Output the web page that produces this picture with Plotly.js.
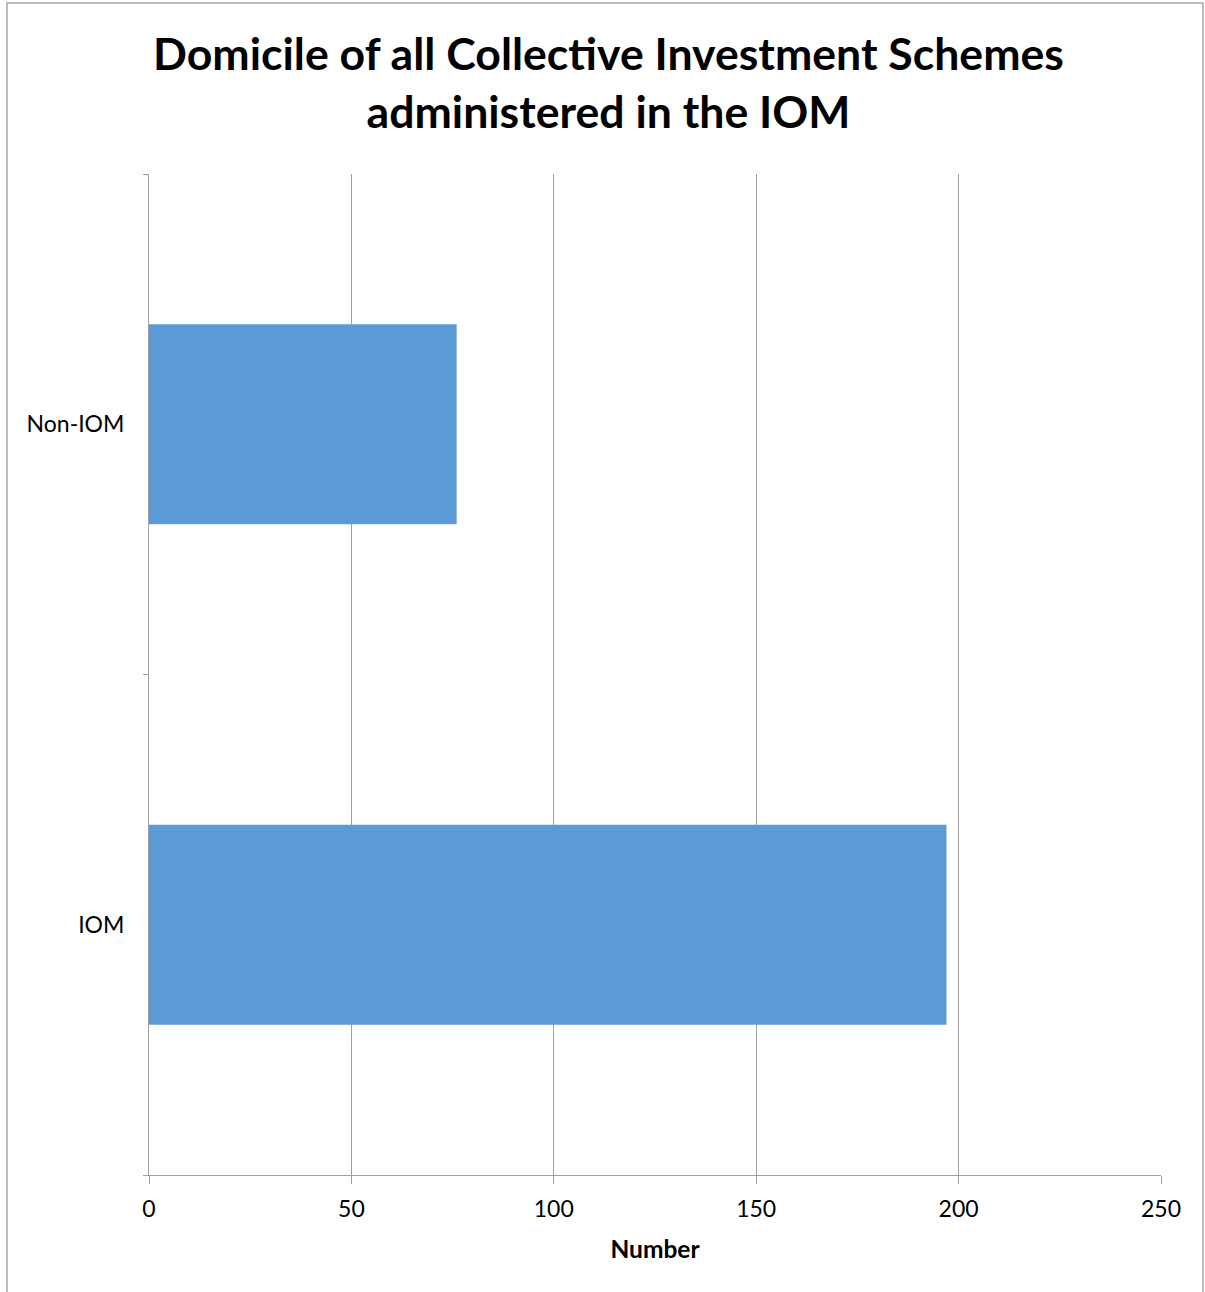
<!DOCTYPE html>
<html>
<head>
<meta charset="utf-8">
<script src="https://cdn.plot.ly/plotly-3.0.1.min.js"></script>
<style>html,body{margin:0;padding:0;background:#fff;}#chart{width:1205px;height:1292px;}</style>
</head>
<body>
<div id="chart"></div>
<script>
const categories = ['IOM', 'Non-IOM'];
const values = [197, 76];
const xTickVals = [0, 50, 100, 150, 200, 250];
const titleText = 'Domicile of all Collective Investment Schemes<br>administered in the IOM';
const xTitle = 'Number';

const FONT = 'Lato, "Open Sans", "DejaVu Sans", sans-serif';

const data = [{
  type: 'bar',
  orientation: 'h',
  y: categories,
  x: values,
  width: 0.4,
  marker: {color: '#5B9BD5', line: {width: 0}},
  hoverinfo: 'none'
}];

const layout = {
  width: 1205,
  height: 1292,
  paper_bgcolor: '#fff',
  plot_bgcolor: '#fff',
  margin: {l: 149, r: 44, t: 174, b: 117, pad: 0},
  showlegend: false,
  title: {
    text: titleText,
    font: {family: FONT, size: 44.6, color: '#000', weight: 'bold'},
    xref: 'container', x: 0.505, xanchor: 'center',
    yref: 'container', y: 1 - 70/1292, yanchor: 'middle'
  },
  xaxis: {
    range: [0, 250],
    tickvals: xTickVals,
    ticktext: xTickVals.map(String),
    showgrid: true,
    gridcolor: '#a0a0a0',
    gridwidth: 1,
    zeroline: false,
    showline: true,
    linecolor: '#a0a0a0',
    linewidth: 1,
    ticks: 'outside',
    ticklen: 8,
    tickcolor: '#a0a0a0',
    ticklabelstandoff: 5,
    tickfont: {family: FONT, size: 23, color: '#000'},
    fixedrange: true,
    title: {text: xTitle, font: {family: FONT, size: 24.5, color: '#000', weight: 'bold'}, standoff: 20}
  },
  yaxis: {
    type: 'category',
    categoryorder: 'array',
    categoryarray: categories,
    range: [-0.5, 1.5],
    showgrid: false,
    zeroline: false,
    showline: true,
    linecolor: '#a0a0a0',
    linewidth: 1,
    ticks: 'outside',
    tickson: 'boundaries',
    ticklen: 5,
    tickcolor: '#a0a0a0',
    ticklabelstandoff: 19,
    tickfont: {family: FONT, size: 23, color: '#000'},
    fixedrange: true
  },
  shapes: [{
    type: 'rect', xref: 'paper', yref: 'paper',
    x0: (7 - 149) / 1012, x1: (1203 - 149) / 1012,
    y0: (1175 - 1300) / 1001, y1: (1175 - 3) / 1001,
    line: {color: '#a6a6a6', width: 1.5},
    fillcolor: 'rgba(0,0,0,0)',
    layer: 'below'
  }]
};

Plotly.newPlot('chart', data, layout, {displayModeBar: false, staticPlot: true});
</script>
</body>
</html>
